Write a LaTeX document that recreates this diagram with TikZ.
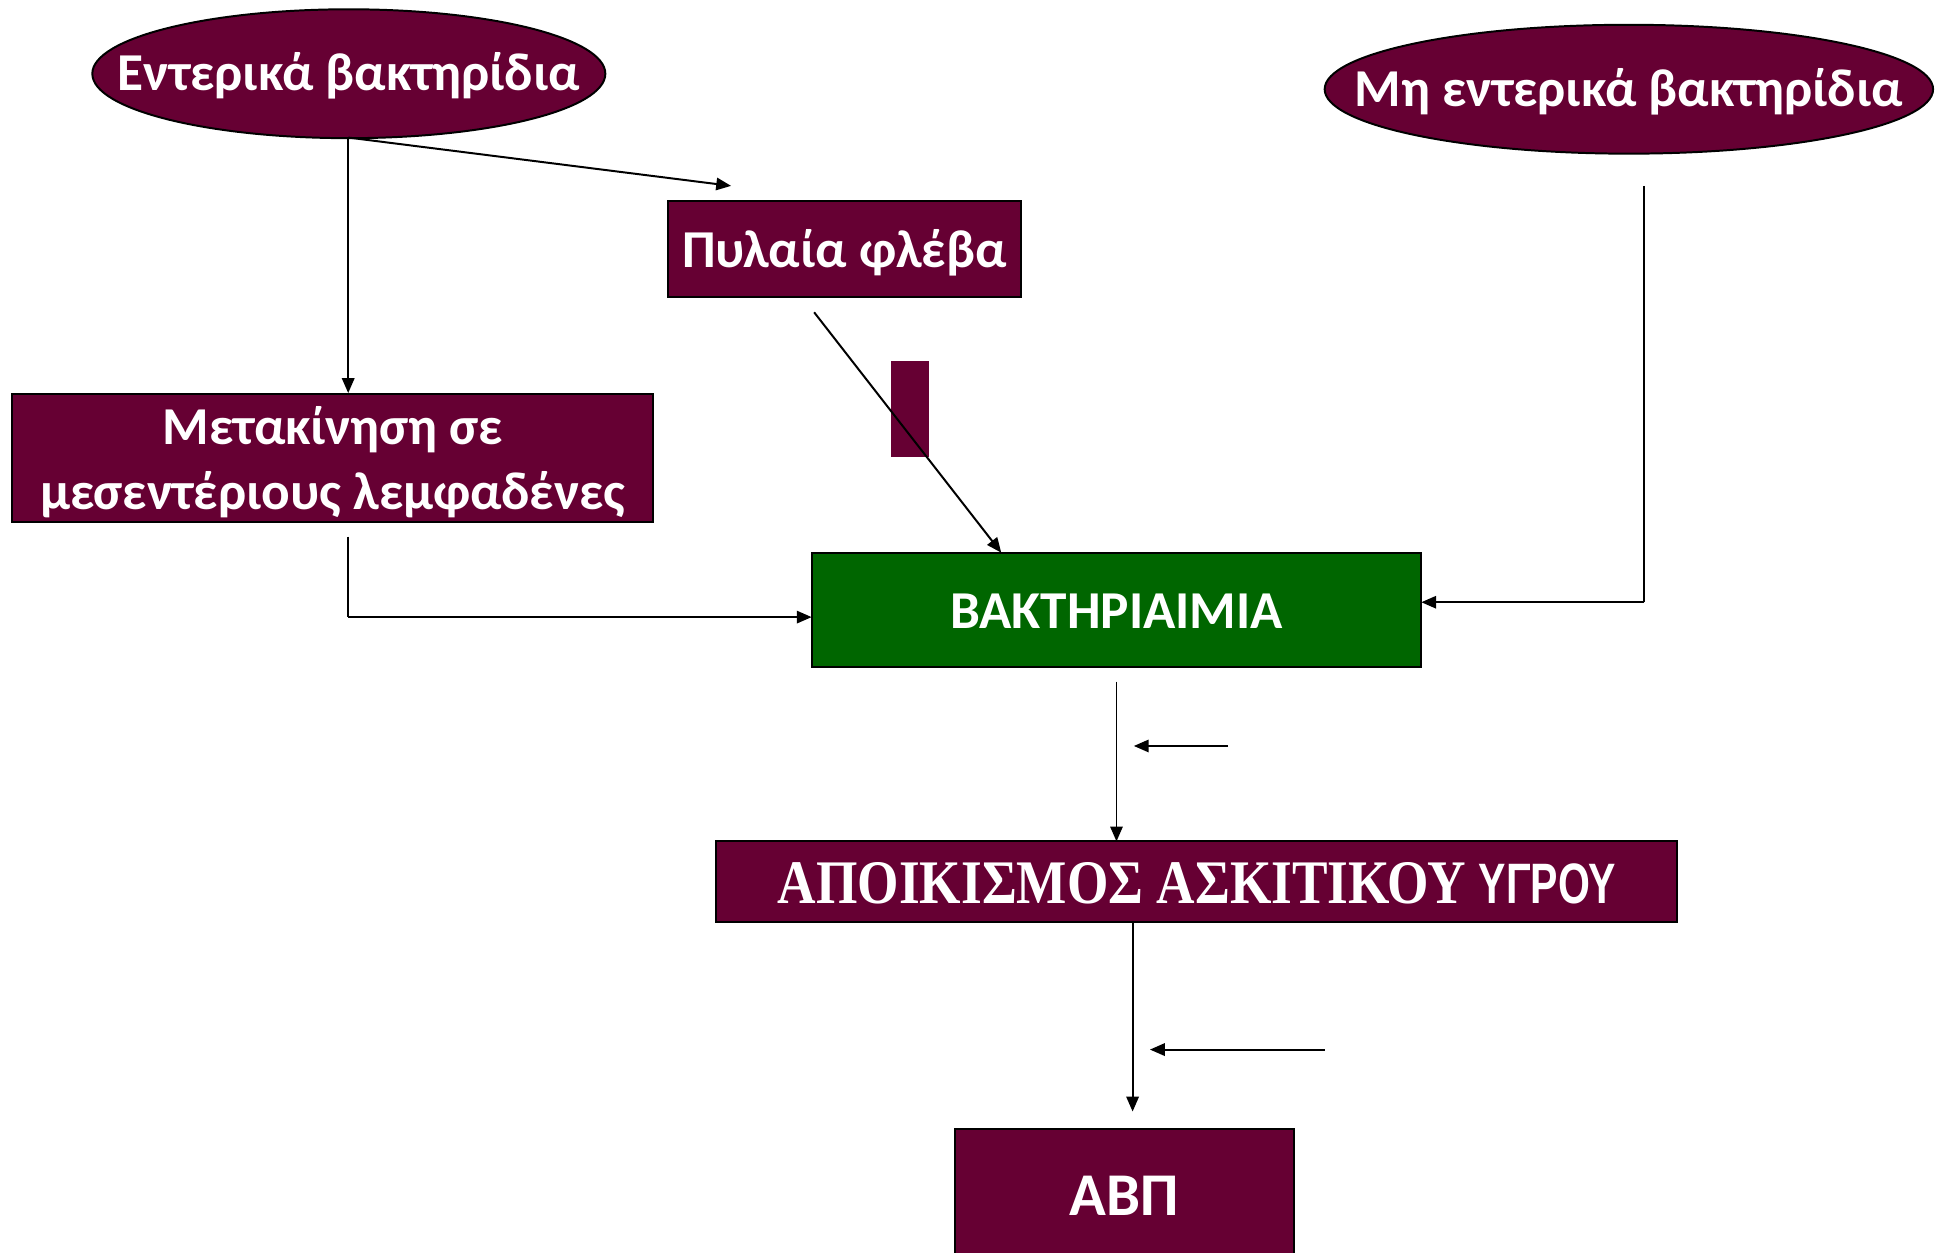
\documentclass[tikz,border=0pt]{standalone}
\usepackage{fontspec}
\setmainfont{Carlito}
\newfontfamily\timesf{Liberation Serif}
\newfontfamily\narrowf{Liberation Sans}
\usetikzlibrary{arrows.meta,shapes.geometric}
\definecolor{maroon}{RGB}{102,0,51}
\definecolor{dgreen}{RGB}{0,102,0}
\begin{document}
\begin{tikzpicture}[x=1pt,y=-1pt,
  ell/.style={ellipse,draw=black,fill=maroon,line width=1.6pt,inner sep=0pt},
  boxm/.style={rectangle,draw=black,fill=maroon,line width=1.6pt,inner sep=0pt},
  boxg/.style={rectangle,draw=black,fill=dgreen,line width=1.6pt,inner sep=0pt},
  txt/.style={text=white,font=\fontsize{43}{52}\selectfont\bfseries,align=center,inner sep=0pt},
  conn/.style={line width=1.6pt,-{Triangle[length=12pt,width=10pt]}},
  plain/.style={line width=1.6pt}]
\clip (0,0) rectangle (1568,1011);
\fill[white] (0,0) rectangle (1568,1011);
% nodes
\node[ell,minimum width=414pt,minimum height=104pt] (e1) at (281.5,59.5) {};
\node[txt] at (281.5,61) {Εντερικά βακτηρίδια};
\node[ell,minimum width=491pt,minimum height=104pt] (e2) at (1314.5,72) {};
\node[txt] at (1314.5,74) {Μη εντερικά βακτηρίδια};
\node[boxm,minimum width=285pt,minimum height=78pt] (pyl) at (681.5,201) {};
\node[txt] at (681.5,204) {Πυλαία φλέβα};
\node[boxm,minimum width=517pt,minimum height=103pt] (met) at (268.5,369.5) {};
\node[txt] at (268.5,373) {Μετακίνηση σε\\μεσεντέριους λεμφαδένες};
\node[rectangle,fill=maroon,minimum width=31pt,minimum height=78pt,inner sep=0pt] (sm) at (734.5,330) {};
\node[boxg,minimum width=492pt,minimum height=92pt] (bak) at (901,492) {};
\node[txt] at (901,493) {ΒΑΚΤΗΡΙΑΙΜΙΑ};
\node[boxm,minimum width=775pt,minimum height=65pt] (apo) at (965.5,711.5) {};
\node[txt,anchor=center] at (966,713) {\scalebox{0.86}[1]{\fontsize{50}{60}\timesf\bfseries ΑΠΟΙΚΙΣΜΟΣ ΑΣΚΙΤΙΚΟΥ}\hspace{10pt}\scalebox{0.72}[1]{\fontsize{46}{56}\narrowf\bfseries ΥΓΡΟΥ}};
\node[boxm,minimum width=273pt,minimum height=130pt] (abp) at (907.5,976) {};
\node[txt] at (907,965) {\fontsize{49}{58}\selectfont ΑΒΠ};
% coordinates
\coordinate (e1b) at (281,111);
\coordinate (pyltip) at (590,150);
\coordinate (pylout) at (657,252);
\coordinate (baktop) at (808,446);
\coordinate (metout) at (281,433);
\coordinate (metcorner) at (281,498);
\coordinate (bakleft) at (655,498);
\coordinate (e2out) at (1327,150);
\coordinate (e2corner) at (1327,486);
\coordinate (bakright) at (1147,486);
\coordinate (bakout) at (901,550);
\coordinate (apotop) at (901,679);
\coordinate (a1s) at (991,602);
\coordinate (a1e) at (915,602);
\coordinate (apoout) at (914,744);
\coordinate (abptip) at (914,897);
\coordinate (a2s) at (1069,847);
\coordinate (a2e) at (928,847);
% connectors
\draw[conn] (e1b) -- (met.north -| e1b);
\draw[conn] (e1b) -- (pyltip);
\draw[conn] (pylout) -- (baktop);
\draw[plain] (metout) -- (metcorner);
\draw[conn] (metcorner) -- (bakleft);
\draw[plain] (e2out) -- (e2corner);
\draw[conn] (e2corner) -- (bakright);
\draw[conn] (bakout) -- (apotop);
\draw[conn] (a1s) -- (a1e);
\draw[conn] (apoout) -- (abptip);
\draw[conn] (a2s) -- (a2e);
\end{tikzpicture}
\end{document}
